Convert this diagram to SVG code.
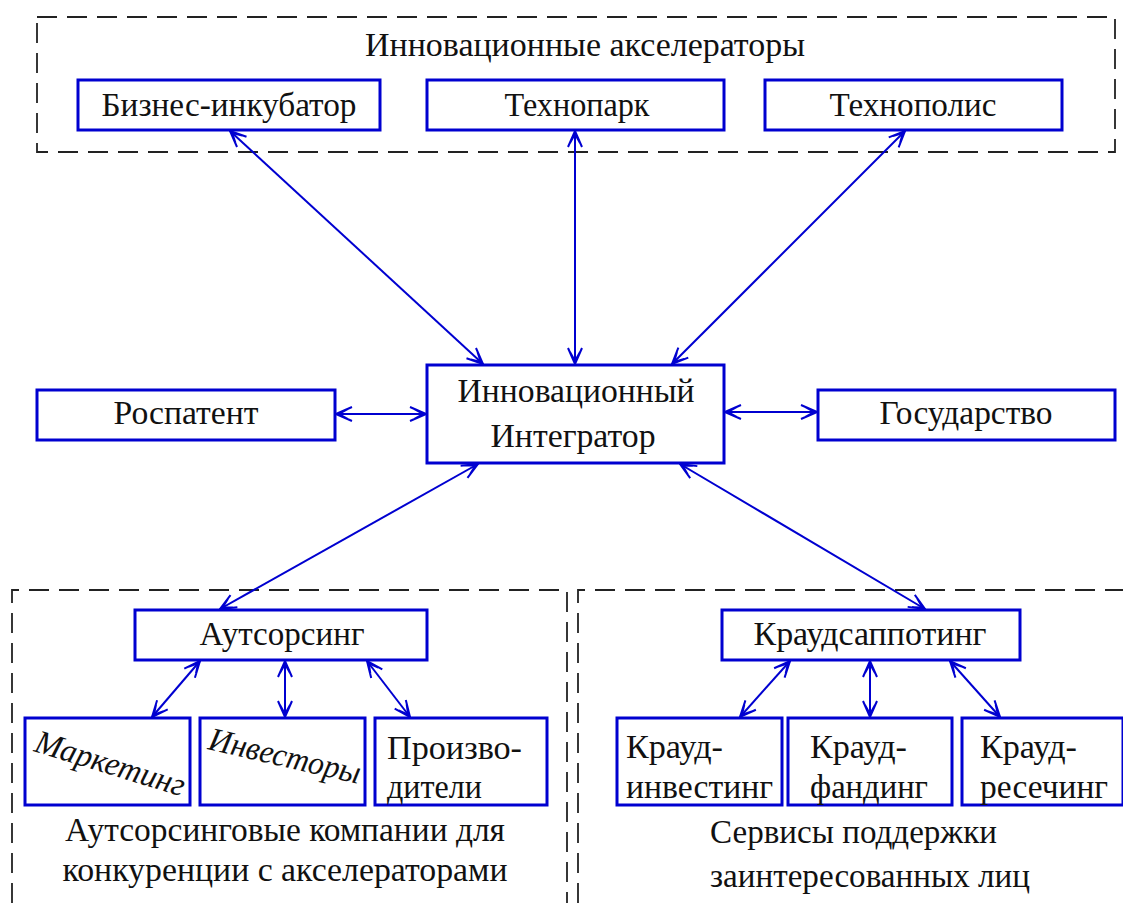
<svg xmlns="http://www.w3.org/2000/svg" width="1123" height="903" viewBox="0 0 1123 903">
<style>
.box{fill:#fff;stroke:#0000d0;stroke-width:3}
.grp{fill:none;stroke:#222;stroke-width:1.8;stroke-dasharray:20 10}
.t{font-family:"Liberation Serif","Times New Roman",serif;font-size:33px;fill:#111}
.c{stroke:#0000d0;stroke-width:2;fill:none;marker-start:url(#a);marker-end:url(#a)}
</style>
<defs>
<marker id="a" viewBox="0 0 20 20" refX="19" refY="10" markerWidth="20" markerHeight="20" markerUnits="userSpaceOnUse" orient="auto-start-reverse">
<path d="M3,3 L19,10 L3,17 M7,5 L16,10 L7,15" fill="none" stroke="#0000d0" stroke-width="2"/>
</marker>
</defs>
<rect width="1123" height="903" fill="#fff"/>
<g id="groups">
<rect class="grp" x="37" y="17" width="1078" height="135"/>
<path class="grp" d="M12,903 V590 H567 V903"/>
<path class="grp" d="M578,903 V590 H1123"/>
</g>
<g id="group-labels">
<text class="t" x="585" y="56" text-anchor="middle" textLength="440" lengthAdjust="spacingAndGlyphs">Инновационные акселераторы</text>
<text class="t" x="285" y="841" text-anchor="middle" textLength="440" lengthAdjust="spacingAndGlyphs">Аутсорсинговые компании для</text>
<text class="t" x="285" y="881" text-anchor="middle" textLength="445" lengthAdjust="spacingAndGlyphs">конкуренции с акселераторами</text>
<text class="t" x="710" y="843" textLength="287" lengthAdjust="spacingAndGlyphs">Сервисы поддержки</text>
<text class="t" x="710" y="887" textLength="320" lengthAdjust="spacingAndGlyphs">заинтересованных лиц</text>
</g>
<g id="connectors">
<line class="c" x1="230" y1="131" x2="483" y2="364"/>
<line class="c" x1="575" y1="131" x2="575" y2="364"/>
<line class="c" x1="905" y1="131" x2="672" y2="364"/>
<line class="c" x1="336" y1="414" x2="426" y2="414"/>
<line class="c" x1="725" y1="412" x2="817" y2="412"/>
<line class="c" x1="478" y1="464" x2="220" y2="609"/>
<line class="c" x1="680" y1="464" x2="925" y2="609"/>
<line class="c" x1="200" y1="661" x2="152" y2="717"/>
<line class="c" x1="285" y1="661" x2="285" y2="717"/>
<line class="c" x1="367" y1="661" x2="410" y2="717"/>
<line class="c" x1="790" y1="661" x2="740" y2="717"/>
<line class="c" x1="870" y1="661" x2="870" y2="717"/>
<line class="c" x1="950" y1="661" x2="1000" y2="717"/>
</g>
<g id="biz"><rect class="box" x="78" y="80" width="302" height="50"/><text class="t" x="229" y="116" text-anchor="middle" textLength="255" lengthAdjust="spacingAndGlyphs">Бизнес-инкубатор</text></g>
<g id="technopark"><rect class="box" x="427" y="80" width="297" height="50"/><text class="t" x="577" y="116" text-anchor="middle" textLength="145" lengthAdjust="spacingAndGlyphs">Технопарк</text></g>
<g id="technopolis"><rect class="box" x="765" y="80" width="297" height="50"/><text class="t" x="913" y="116" text-anchor="middle" textLength="167" lengthAdjust="spacingAndGlyphs">Технополис</text></g>
<g id="integrator"><rect class="box" x="427" y="365" width="297" height="98"/><text class="t" x="576" y="402" text-anchor="middle" textLength="237" lengthAdjust="spacingAndGlyphs">Инновационный</text><text class="t" x="573" y="447" text-anchor="middle" textLength="165" lengthAdjust="spacingAndGlyphs">Интегратор</text></g>
<g id="rospatent"><rect class="box" x="37" y="390" width="298" height="50"/><text class="t" x="186" y="424" text-anchor="middle" textLength="145" lengthAdjust="spacingAndGlyphs">Роспатент</text></g>
<g id="state"><rect class="box" x="818" y="390" width="297" height="50"/><text class="t" x="966" y="424" text-anchor="middle" textLength="173" lengthAdjust="spacingAndGlyphs">Государство</text></g>
<g id="outsourcing"><rect class="box" x="135" y="610" width="292" height="50"/><text class="t" x="282" y="645" text-anchor="middle" textLength="165" lengthAdjust="spacingAndGlyphs">Аутсорсинг</text></g>
<g id="marketing"><rect class="box" x="25" y="718" width="165" height="87"/><text class="t" transform="translate(33,751) rotate(17)" font-style="italic" textLength="155" lengthAdjust="spacingAndGlyphs">Маркетинг</text></g>
<g id="investors"><rect class="box" x="200" y="718" width="165" height="87"/><text class="t" transform="translate(207,749) rotate(13)" font-style="italic" textLength="155" lengthAdjust="spacingAndGlyphs">Инвесторы</text></g>
<g id="producers"><rect class="box" x="375" y="718" width="172" height="87"/><text class="t" x="387" y="759" textLength="135" lengthAdjust="spacingAndGlyphs">Произво-</text><text class="t" x="387" y="798" textLength="95" lengthAdjust="spacingAndGlyphs">дители</text></g>
<g id="crowdsupporting"><rect class="box" x="722" y="610" width="298" height="50"/><text class="t" x="870" y="645" text-anchor="middle" textLength="233" lengthAdjust="spacingAndGlyphs">Краудсаппотинг</text></g>
<g id="crowdinvesting"><rect class="box" x="617" y="718" width="165" height="87"/><text class="t" x="626" y="758" textLength="97" lengthAdjust="spacingAndGlyphs">Крауд-</text><text class="t" x="626" y="798" textLength="147" lengthAdjust="spacingAndGlyphs">инвестинг</text></g>
<g id="crowdfunding"><rect class="box" x="788" y="718" width="164" height="87"/><text class="t" x="810" y="758" textLength="97" lengthAdjust="spacingAndGlyphs">Крауд-</text><text class="t" x="810" y="798" textLength="118" lengthAdjust="spacingAndGlyphs">фандинг</text></g>
<g id="crowdresearching"><rect class="box" x="962" y="718" width="161" height="87"/><text class="t" x="980" y="758" textLength="97" lengthAdjust="spacingAndGlyphs">Крауд-</text><text class="t" x="980" y="798" textLength="128" lengthAdjust="spacingAndGlyphs">ресечинг</text></g>
</svg>
